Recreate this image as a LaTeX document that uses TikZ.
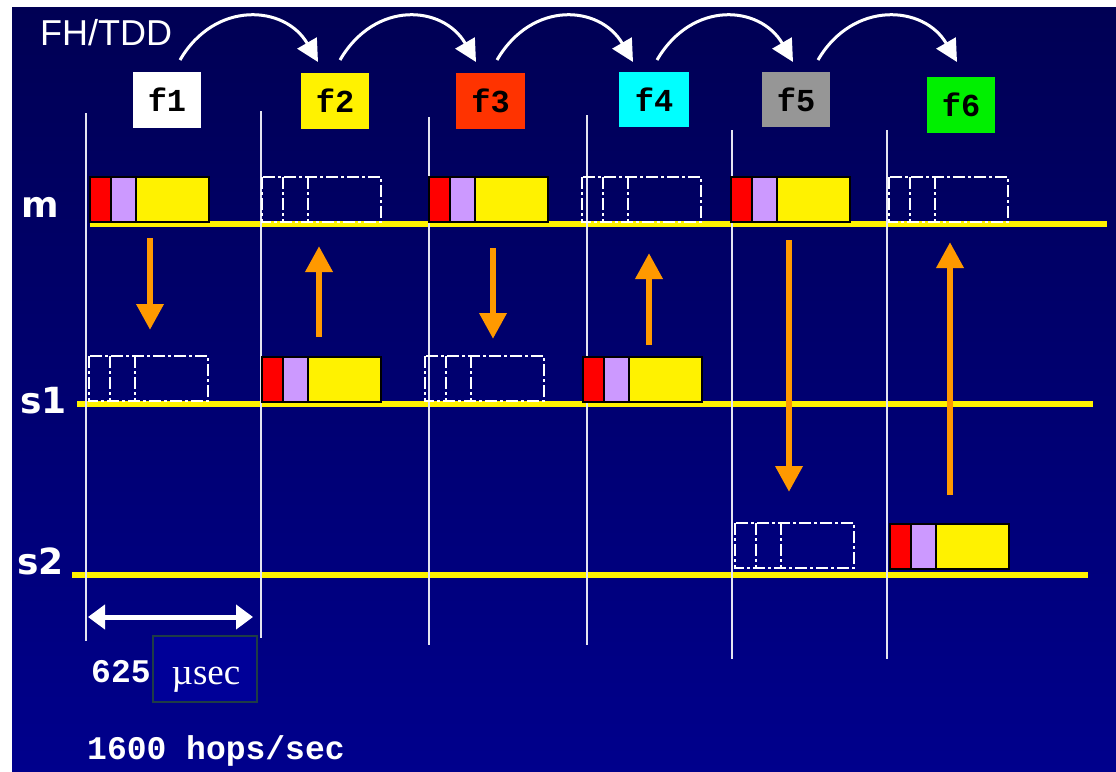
\documentclass[tikz,border=0pt]{standalone}
\usepackage{fontspec}
\usetikzlibrary{arrows.meta}
\newfontfamily\arialf{Liberation Sans}
\newfontfamily\monof{Liberation Mono}
\newfontfamily\verdf{DejaVu Sans}
\newfontfamily\timesf{Liberation Serif}
\definecolor{bgtop}{RGB}{0,0,84}
\definecolor{bgbot}{RGB}{0,0,140}
\definecolor{hopor}{RGB}{255,153,0}
\definecolor{lilac}{RGB}{204,153,255}
\definecolor{fred}{RGB}{255,51,0}
\definecolor{fcyan}{RGB}{0,255,255}
\definecolor{fgray}{RGB}{150,150,150}
\definecolor{fgreen}{RGB}{0,240,0}
\definecolor{vline}{RGB}{228,228,240}
\definecolor{usbox}{RGB}{0,0,152}
\definecolor{usborder}{RGB}{30,60,70}
\tikzset{
  fbox/.style={draw=none, minimum width=68pt, minimum height=56pt, inner sep=0pt,
    font=\monof\bfseries\fontsize{32}{32}\selectfont, text=black},
  slotline/.style={line width=2pt, draw=vline},
  chanline/.style={line width=6pt, draw=yellow},
  hoparrow/.style={line width=3pt, white, -{Triangle[length=22pt,width=22pt]}},
  txarrow/.style={line width=6.5pt, hopor, -{Triangle[length=26pt,width=26pt]}},
  ghost/.style={draw=white, line width=1.6pt, dash pattern=on 12pt off 3pt on 3pt off 3pt},
  pktpart/.style={draw=black, line width=1.5pt},
  rowlabel/.style={anchor=base west, inner sep=0pt, text=white,
    font=\verdf\bfseries\fontsize{36}{36}\selectfont},
  monolabel/.style={anchor=base west, inner sep=0pt, text=white,
    font=\monof\bfseries\fontsize{33}{33}\selectfont},
}
\newcommand\fullpkt[2]{%
  \filldraw[pktpart, fill=red] (#1,#2) rectangle ++(21,45);
  \filldraw[pktpart, fill=lilac] (#1+21,#2) rectangle ++(25,45);
  \filldraw[pktpart, fill=yellow] (#1+46,#2) rectangle ++(73,45);
}
\newcommand\ghostpkt[2]{%
  \draw[ghost] (#1,#2) rectangle ++(119,45);
  \draw[ghost] (#1+21,#2) -- ++(0,45);
  \draw[ghost] (#1+46,#2) -- ++(0,45);
}
\begin{document}
\begin{tikzpicture}[x=1pt,y=-1pt]
\useasboundingbox (0,0) rectangle (1116,771);
\fill[white] (0,0) rectangle (1116,771);
\shade[top color=bgtop, bottom color=bgbot] (12,7) rectangle (1116,771);

% channel lines
\draw[chanline] (90,224) -- (1107,224);
\draw[chanline] (77,404) -- (1093,404);
\draw[chanline] (72,575) -- (1088,575);

% slot boundaries
\draw[slotline] (86,113) -- (86,641);
\draw[slotline] (261,111) -- (261,638);
\draw[slotline] (429,117) -- (429,645);
\draw[slotline] (587,115) -- (587,645);
\draw[slotline] (732,130) -- (732,659);
\draw[slotline] (887,130) -- (887,659);

% frequency boxes
\node[fbox, fill=white] (f1) at (167,99.5) {f1};
\node[fbox, fill=yellow] (f2) at (335,100.5) {f2};
\node[fbox, fill=fred, minimum width=69pt] (f3) at (490.5,100.5) {f3};
\node[fbox, fill=fcyan, minimum width=70pt, minimum height=55pt] (f4) at (654,99.5) {f4};
\node[fbox, fill=fgray, minimum height=55pt] (f5) at (796,99.5) {f5};
\node[fbox, fill=fgreen] (f6) at (961,104.5) {f6};

% hop arrows
\coordinate (h1s) at (180,60);  \coordinate (h1e) at (318,62);
\coordinate (h2s) at (340,60);  \coordinate (h2e) at (476,62);
\coordinate (h3s) at (497,60);  \coordinate (h3e) at (633,62);
\coordinate (h4s) at (657,60);  \coordinate (h4e) at (793,62);
\coordinate (h5s) at (818,60);  \coordinate (h5e) at (957,62);
\foreach \i in {1,...,5}{
  \draw[hoparrow] (h\i s) .. controls +(35,-60) and +(-33,-57) .. (h\i e);
}
\node[anchor=base west, inner sep=0pt, text=white,
  font=\arialf\fontsize{36}{36}\selectfont] (fh) at (40,45) {FH/TDD};

% packets
\fullpkt{90}{177}
\ghostpkt{262}{177}
\fullpkt{429}{177}
\ghostpkt{582}{177}
\fullpkt{731}{177}
\ghostpkt{889}{177}
\ghostpkt{89}{356}
\fullpkt{262}{357}
\ghostpkt{425}{356}
\fullpkt{583}{357}
\ghostpkt{735}{523}
\fullpkt{890}{524}

% transmission arrows
\coordinate (t1s) at (150,238); \coordinate (t1e) at (150,330);
\coordinate (t2s) at (319,337); \coordinate (t2e) at (319,246);
\coordinate (t3s) at (493,248); \coordinate (t3e) at (493,339);
\coordinate (t4s) at (649,345); \coordinate (t4e) at (649,253);
\coordinate (t5s) at (789,240); \coordinate (t5e) at (789,492);
\coordinate (t6s) at (950,495); \coordinate (t6e) at (950,242);
\foreach \i in {1,...,6}{
  \draw[txarrow] (t\i s) -- (t\i e);
}

% row labels
\node[rowlabel] (lm) at (21,217) {m};
\node[rowlabel] (ls1) at (20,413) {s1};
\node[rowlabel] (ls2) at (17,574) {s2};

% slot duration
\coordinate (dA) at (88,617); \coordinate (dB) at (253,617);
\draw[line width=5pt, white,
  {Triangle[length=17pt,width=24pt]}-{Triangle[length=17pt,width=24pt]}] (dA) -- (dB);
\node[monolabel] (n625) at (91,682) {625};
\node[draw=usborder, fill=usbox, line width=1.2pt, minimum width=104pt,
  minimum height=66pt, inner sep=0pt] (us) at (205,669) {};
\node[anchor=base, inner sep=0pt, text=white,
  font=\timesf\fontsize{37}{37}\selectfont] (ust) at (206,684) {µsec};
\node[monolabel] (hops) at (87,759) {1600 hops/sec};
\end{tikzpicture}
\end{document}
